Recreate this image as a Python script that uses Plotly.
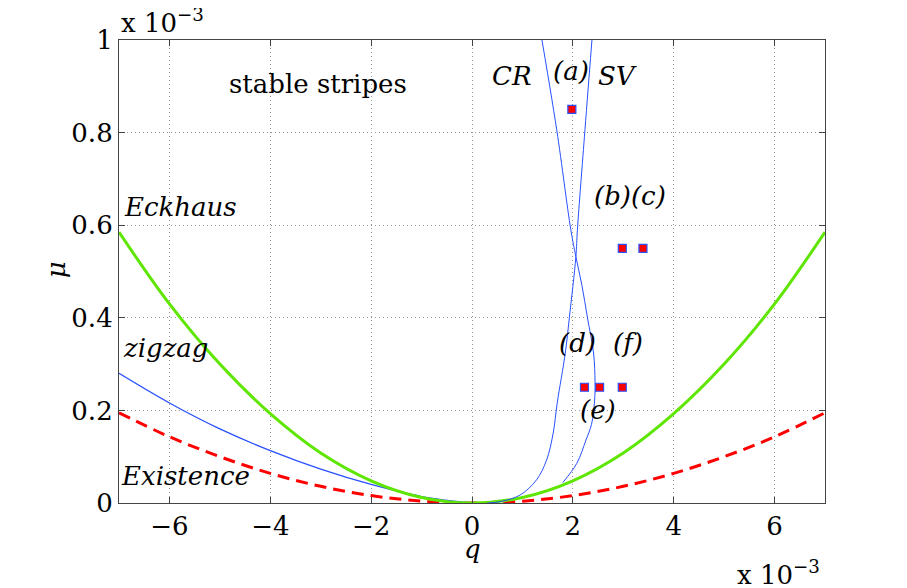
import plotly.graph_objects as go

# values in units of 1e-3 (q and mu)
q_par = [-7, -6, -5, -4, -3, -2, -1, 0, 1, 2, 3, 4, 5, 6, 7]
mu_eckhaus = [0.585, 0.430, 0.300, 0.193, 0.108, 0.048, 0.012, 0.0, 0.012, 0.048, 0.108, 0.193, 0.300, 0.430, 0.585]
mu_exist = [0.195, 0.143, 0.100, 0.064, 0.036, 0.016, 0.004, 0.0, 0.004, 0.016, 0.036, 0.064, 0.100, 0.143, 0.195]

q_zigzag = [-7, -6, -5, -4, -3, -2, -1, 0]
mu_zigzag = [0.280, 0.216, 0.160, 0.113, 0.073, 0.040, 0.014, 0.0]

q_sv = [0.3, 0.56, 0.95, 1.28, 1.48, 1.61, 1.69, 1.85, 1.93, 2.06, 2.09, 2.24, 2.40]
mu_sv = [0.0, 0.003, 0.017, 0.050, 0.093, 0.151, 0.216, 0.324, 0.400, 0.532, 0.590, 0.806, 1.03]

q_cr = [1.80, 2.08, 2.26, 2.37, 2.43, 2.44, 2.41, 2.29, 2.18, 2.06, 1.96, 1.68, 1.34]
mu_cr = [0.044, 0.086, 0.136, 0.170, 0.220, 0.260, 0.324, 0.400, 0.470, 0.532, 0.590, 0.806, 1.03]

q_runs = [1.98, 2.98, 3.39, 2.23, 2.53, 2.98]
mu_runs = [0.85, 0.55, 0.55, 0.25, 0.25, 0.25]

x_ticks = [-6, -4, -2, 0, 2, 4, 6]
y_ticks = [0, 0.2, 0.4, 0.6, 0.8, 1]

SERIF = "DejaVu Serif"
BLUE = "rgb(40,80,255)"
GREEN = "rgb(95,230,0)"

fig = go.Figure()

fig.add_trace(go.Scatter(x=q_par, y=mu_exist, mode="lines", line=dict(color="red", width=3, dash="12px,7px", shape="spline")))
fig.add_trace(go.Scatter(x=q_zigzag, y=mu_zigzag, mode="lines", line=dict(color=BLUE, width=1.3, shape="spline")))
fig.add_trace(go.Scatter(x=q_par, y=mu_eckhaus, mode="lines", line=dict(color=GREEN, width=3, shape="spline")))
fig.add_trace(go.Scatter(x=q_sv, y=mu_sv, mode="lines", line=dict(color=BLUE, width=1, shape="spline")))
fig.add_trace(go.Scatter(x=q_cr, y=mu_cr, mode="lines", line=dict(color=BLUE, width=1, shape="spline")))
fig.add_trace(go.Scatter(x=q_runs, y=mu_runs, mode="markers",
                         marker=dict(symbol="square", size=8, color="red", line=dict(color=BLUE, width=1.2))))

# text labels inside the plot: text, x, y, italic, anchor
labels = [
    ("stable stripes", -3.06, 0.905, False, "center"),
    ("CR", 0.79, 0.922, True, "center"),
    ("(a)", 1.96, 0.933, True, "center"),
    ("SV", 2.88, 0.922, True, "center"),
    ("(b)(c)", 3.13, 0.663, True, "center"),
    ("Eckhaus", -6.95, 0.64, True, "left"),
    ("zigzag", -6.97, 0.335, True, "left"),
    ("Existence", -7.0, 0.058, True, "left"),
    ("(d)", 2.10, 0.346, True, "center"),
    ("(f)", 3.10, 0.346, True, "center"),
    ("(e)", 2.50, 0.20, True, "center"),
]
for txt, x, y, ital, anchor in labels:
    fig.add_annotation(x=x, y=y, xref="x", yref="y", showarrow=False, xanchor=anchor,
                       text=f"<i>{txt}</i>" if ital else txt,
                       font=dict(family=SERIF, size=26, color="black"))

# axis labels and exponent markers
fig.add_annotation(x=0.5, y=-0.1, xref="paper", yref="paper", xanchor="center", yanchor="middle", showarrow=False,
                   text="<i>q</i>", font=dict(family=SERIF, size=26, color="black"))
fig.add_annotation(x=-0.089, y=0.503, xref="paper", yref="paper", xanchor="center", yanchor="middle",
                   showarrow=False, textangle=-90,
                   text="<i>μ</i>", font=dict(family=SERIF, size=26, color="black"))
fig.add_annotation(x=0.0, y=1.0, xref="paper", yref="paper", xanchor="left", yanchor="bottom", showarrow=False,
                   text="x 10<sup>−3</sup>", font=dict(family=SERIF, size=26, color="black"))
fig.add_annotation(x=0.996, y=-0.151, xref="paper", yref="paper", xanchor="right", yanchor="middle", showarrow=False,
                   text="x 10<sup>−3</sup>", font=dict(family=SERIF, size=26, color="black"))

axis_common = dict(showgrid=True, gridcolor="#999999", griddash="1px,3px", gridwidth=1,
                   zeroline=False, showline=True, linecolor="#444", linewidth=1.2, mirror="ticks",
                   ticks="inside", ticklen=6, tickcolor="#444",
                   tickfont=dict(family=SERIF, size=26, color="black"))

fig.update_xaxes(range=[-7, 7], tickvals=x_ticks, ticktext=[f"{v:g}".replace("-", "−") for v in x_ticks], **axis_common)
fig.update_yaxes(range=[0, 1], tickvals=y_ticks, ticktext=[f"{v:g}" for v in y_ticks], **axis_common)

fig.update_layout(
    width=899, height=580,
    margin=dict(l=111, r=82, t=32, b=85),
    paper_bgcolor="white", plot_bgcolor="white",
    showlegend=False,
)

fig.write_html("out.html")
